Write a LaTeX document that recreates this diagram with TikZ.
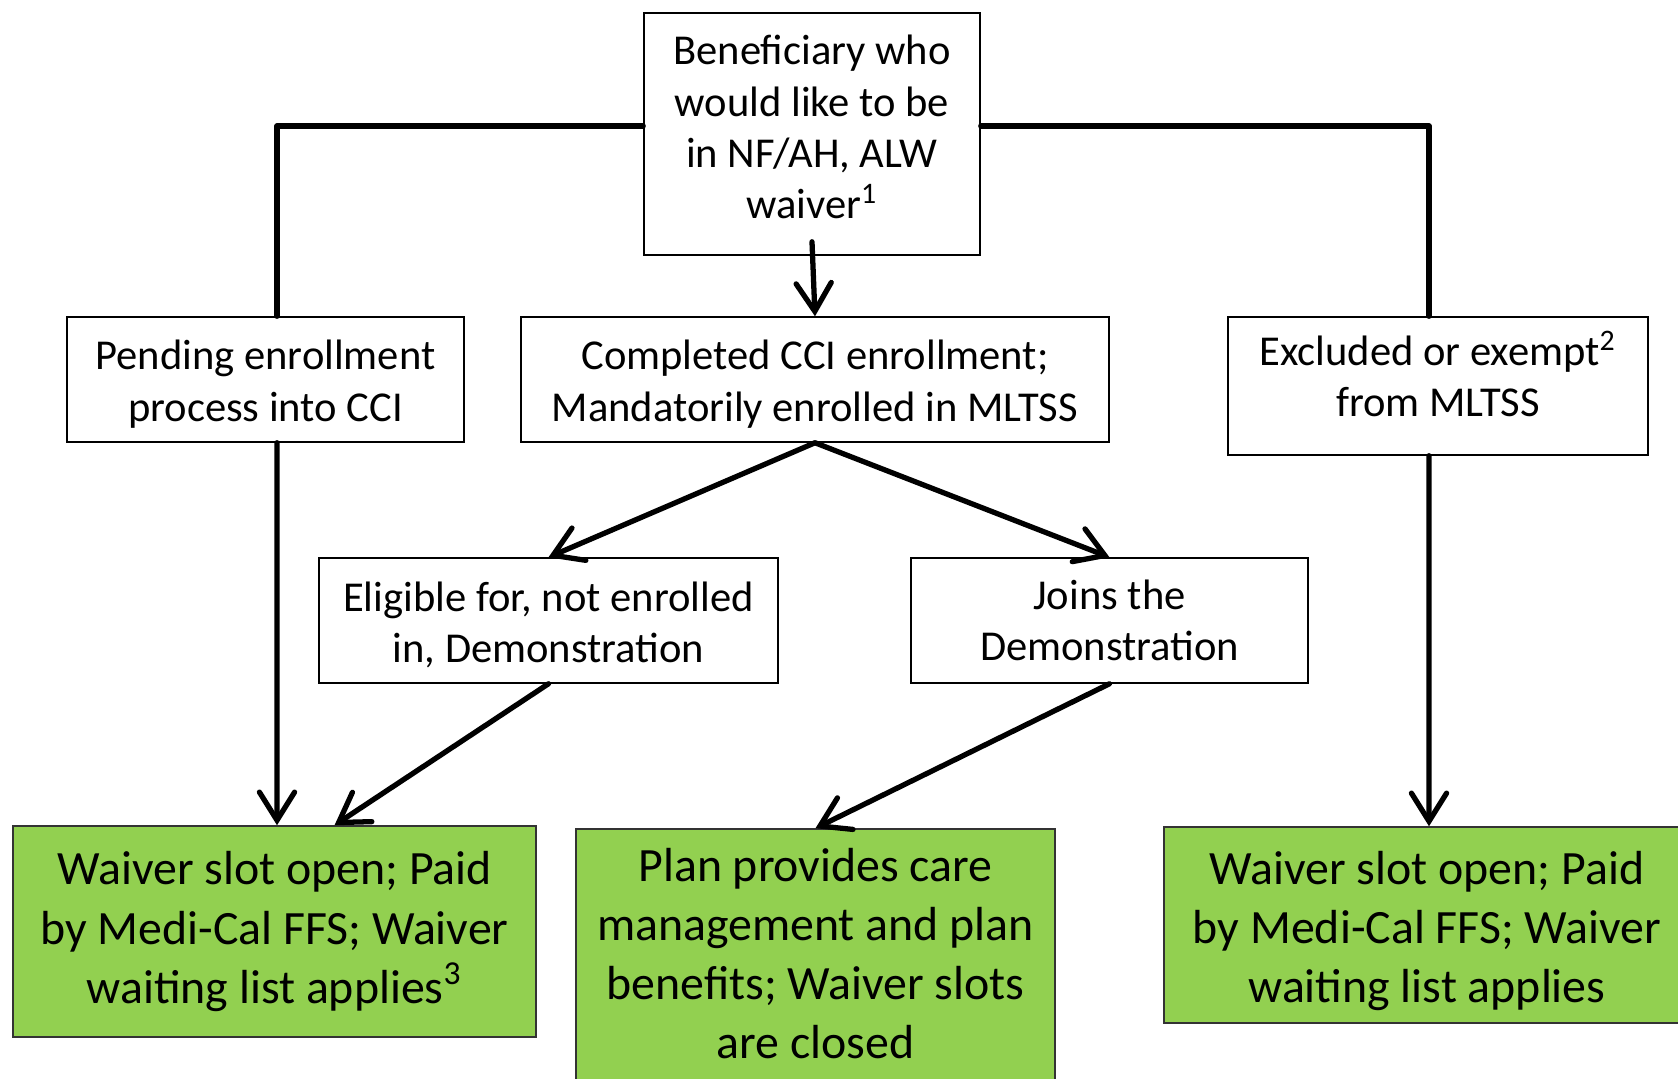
\documentclass[tikz,border=0pt]{standalone}
\usepackage{fontspec}
\setmainfont{Carlito}
\usetikzlibrary{positioning,arrows.meta}
\definecolor{leafgreen}{HTML}{92D050}

\begin{document}
\begin{tikzpicture}[x=0.01cm,y=-0.01cm,
    box/.style={draw,line width=0.4pt,align=center,inner sep=0pt,font=\fontsize{12.1}{14.6}\selectfont},
    leaf/.style={box,fill=leafgreen,draw=black!80,font=\fontsize{13.6}{16.8}\selectfont},
    flow/.style={line width=1.5pt,line cap=round,line join=round},
    arr/.style={flow,-{Straight Barb[length=8pt,width=10pt,line cap=round]}}]
     \clip (0,0) rectangle (1678,1078);
     \fill[white] (0,0) rectangle (1678,1078);

     \node[box,minimum width=3.36cm,minimum height=2.42cm] (top) at (812,134) {Beneficiary who\\would like to be\\in NF/AH, ALW\\waiver\textsuperscript{1}\rule[-4pt]{0pt}{0pt}};

     \node[box,minimum width=3.97cm,minimum height=1.25cm] (pend) at (265.5,379.5) {\rule{0pt}{11pt}Pending enrollment\\process into CCI};
     \node[box,minimum width=5.88cm,minimum height=1.25cm] (compl) at (815,379.5) {\rule{0pt}{11pt}Completed CCI enrollment;\\Mandatorily enrolled in MLTSS};
     \node[box,minimum width=4.20cm,minimum height=1.38cm] (excl) at (1438,386) {Excluded or exempt\textsuperscript{2}\\from MLTSS\rule[-7pt]{0pt}{0pt}};

     \node[box,minimum width=4.59cm,minimum height=1.25cm] (elig) at (548.5,620.5) {\rule{0pt}{11pt}Eligible for, not enrolled\\in, Demonstration};
     \node[box,minimum width=3.97cm,minimum height=1.25cm] (joins) at (1109.5,620.5) {Joins the\\Demonstration};

     \node[leaf,minimum width=5.23cm,minimum height=2.11cm] (gleft) at (274.5,931.5) {Waiver slot open; Paid\\by Medi-Cal FFS; Waiver\\waiting list applies\textsuperscript{3}};
     \node[leaf,minimum width=4.79cm,minimum height=2.70cm] (gmid) at (815.5,964) {Plan provides care\\management and plan\\benefits; Waiver slots\\are closed\rule[-6pt]{0pt}{0pt}};
     \node[leaf,minimum width=5.26cm,minimum height=1.96cm] (gright) at (1427,925) {\rule{0pt}{13pt}Waiver slot open; Paid\\by Medi-Cal FFS; Waiver\\waiting list applies};

     \draw[flow] ([yshift=0.08cm]top.west) -| ([xshift=0.115cm]pend.north);
     \draw[flow] ([yshift=0.08cm]top.east) -| ([xshift=-0.09cm]excl.north);
     \draw[arr] ([yshift=0.14cm]top.south) -- (compl.north);
     \draw[arr] (compl.south) -- (elig.north);
     \draw[arr] (compl.south) -- (joins.north);
     \draw[arr] ([xshift=0.115cm]pend.south) -- ([xshift=0.025cm]gleft.north);
     \draw[arr] (elig.south) -- ([xshift=0.60cm]gleft.north);
     \draw[arr] (joins.south) -- (gmid.north);
     \draw[arr] ([xshift=-0.09cm]excl.south) -- ([xshift=0.02cm]gright.north);
\end{tikzpicture}
\end{document}
